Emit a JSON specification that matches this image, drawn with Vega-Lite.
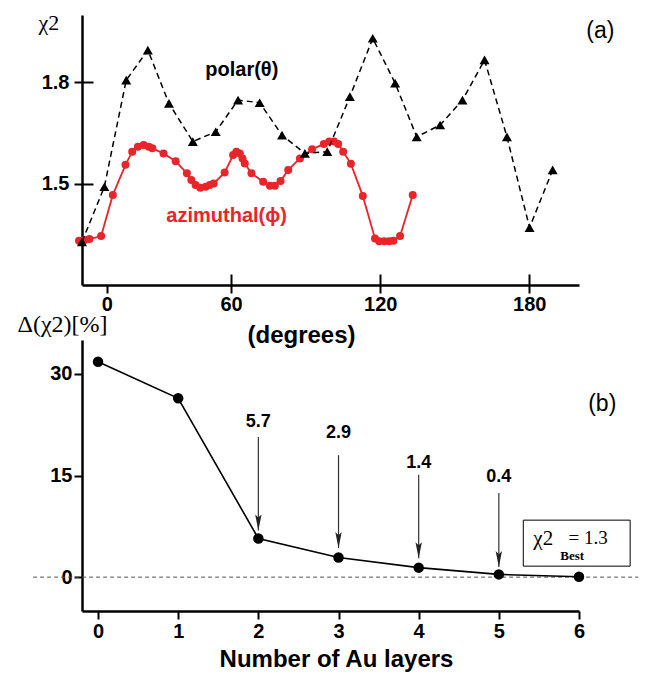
{
  "$schema": "https://vega.github.io/schema/vega-lite/v6.json",
  "padding": {"left": 17, "top": 11, "right": 5, "bottom": 5},
  "background": "white",
  "bounds": "flush",
  "spacing": 55,
  "config": {
    "view": {"stroke": null},
    "axis": {
      "domainColor": "black", "domainWidth": 2.5,
      "grid": false, "labelFont": "Liberation Sans", "labelFontWeight": "bold", "labelFontSize": 20,
      "labelColor": "black", "titleColor": "black"
    }
  },
  "vconcat": [
    {
      "width": 497, "height": 270,
      "resolve": {"axis": {"x": "independent", "y": "independent"}},
      "layer": [
        {
          "data": {"values": [
            {"angle": -1.2, "chi2": 1.331}, {"angle": 1.0, "chi2": 1.333}, {"angle": 3.0, "chi2": 1.336},
            {"angle": 7.7, "chi2": 1.345}, {"angle": 12.4, "chi2": 1.467}, {"angle": 17.5, "chi2": 1.556},
            {"angle": 20.2, "chi2": 1.595}, {"angle": 22.5, "chi2": 1.61}, {"angle": 24.8, "chi2": 1.615},
            {"angle": 26.9, "chi2": 1.61}, {"angle": 28.3, "chi2": 1.605}, {"angle": 32.8, "chi2": 1.59},
            {"angle": 37.7, "chi2": 1.567}, {"angle": 42.2, "chi2": 1.531}, {"angle": 44.0, "chi2": 1.511},
            {"angle": 45.7, "chi2": 1.496}, {"angle": 47.6, "chi2": 1.488}, {"angle": 49.8, "chi2": 1.491},
            {"angle": 51.4, "chi2": 1.496}, {"angle": 53.0, "chi2": 1.501}, {"angle": 57.4, "chi2": 1.533},
            {"angle": 60.8, "chi2": 1.585}, {"angle": 62.1, "chi2": 1.595}, {"angle": 63.5, "chi2": 1.59},
            {"angle": 64.6, "chi2": 1.575}, {"angle": 65.5, "chi2": 1.56}, {"angle": 68.2, "chi2": 1.531},
            {"angle": 72.9, "chi2": 1.506}, {"angle": 75.6, "chi2": 1.494}, {"angle": 77.6, "chi2": 1.494},
            {"angle": 79.9, "chi2": 1.508}, {"angle": 83.0, "chi2": 1.541}, {"angle": 87.7, "chi2": 1.575},
            {"angle": 92.6, "chi2": 1.602}, {"angle": 97.3, "chi2": 1.618}, {"angle": 99.5, "chi2": 1.625},
            {"angle": 101.4, "chi2": 1.625}, {"angle": 103.1, "chi2": 1.618}, {"angle": 105.1, "chi2": 1.595},
            {"angle": 108.2, "chi2": 1.559}, {"angle": 113.0, "chi2": 1.464}, {"angle": 117.9, "chi2": 1.338},
            {"angle": 119.6, "chi2": 1.33}, {"angle": 121.6, "chi2": 1.33}, {"angle": 123.6, "chi2": 1.33},
            {"angle": 125.3, "chi2": 1.331}, {"angle": 128.0, "chi2": 1.345}, {"angle": 133.1, "chi2": 1.467}
          ]},
          "mark": {"type": "line", "color": "#e8252b", "strokeWidth": 1.8,
                   "point": {"filled": true, "size": 64, "color": "#e8252b", "opacity": 1}},
          "encoding": {
            "x": {"field": "angle", "type": "quantitative",
                  "scale": {"domain": [0, 200], "nice": false, "zero": false},
                  "axis": {
                    "orient": "bottom",
                    "values": [10, 60, 120, 180],
                    "labelExpr": "datum.value == 10 ? '0' : datum.label",
                    "ticks": true, "tickSize": 8, "tickColor": "black", "tickWidth": 2,
                    "labelPadding": 1, "labelOverlap": false, "labelFlush": false,
                    "title": "(degrees)", "titleX": 219, "titleY": 50, "titleBaseline": "middle",
                    "titleFont": "Liberation Sans", "titleFontWeight": "bold", "titleFontSize": 24
                  }},
            "y": {"field": "chi2", "type": "quantitative",
                  "scale": {"domain": [1.2, 2.0], "nice": false, "zero": false},
                  "axis": {
                    "orient": "left",
                    "values": [1.5, 1.8],
                    "ticks": true, "tickSize": 8, "tickColor": "black", "tickWidth": 2,
                    "labelPadding": 5, "labelOverlap": false, "labelFlush": false,
                    "title": "χ2", "titleAngle": 0, "titleX": -44, "titleY": 14, "titleAlign": "left",
                    "titleBaseline": "alphabetic", "titleFont": "Liberation Serif", "titleFontWeight": "normal",
                    "titleFontSize": 22
                  }}
          }
        },
        {
          "data": {"values": [
            {"angle": 0.0, "chi2": 1.328}, {"angle": 9.0, "chi2": 1.491}, {"angle": 17.8, "chi2": 1.807},
            {"angle": 26.5, "chi2": 1.896}, {"angle": 35.0, "chi2": 1.738}, {"angle": 44.6, "chi2": 1.625},
            {"angle": 53.8, "chi2": 1.654}, {"angle": 62.8, "chi2": 1.748}, {"angle": 71.5, "chi2": 1.74},
            {"angle": 80.5, "chi2": 1.644}, {"angle": 89.7, "chi2": 1.59}, {"angle": 98.7, "chi2": 1.595},
            {"angle": 107.8, "chi2": 1.758}, {"angle": 117.0, "chi2": 1.931}, {"angle": 126.0, "chi2": 1.798},
            {"angle": 134.7, "chi2": 1.639}, {"angle": 144.1, "chi2": 1.674}, {"angle": 153.1, "chi2": 1.748},
            {"angle": 162.0, "chi2": 1.867}, {"angle": 171.0, "chi2": 1.639}, {"angle": 180.1, "chi2": 1.37},
            {"angle": 189.4, "chi2": 1.541}
          ]},
          "mark": {"type": "line", "color": "black", "strokeWidth": 1.5, "strokeDash": [6, 4],
                   "point": {"shape": "triangle-up", "filled": true, "size": 100, "color": "black", "opacity": 1}},
          "encoding": {
            "x": {"field": "angle", "type": "quantitative",
                  "axis": {
                    "orient": "bottom", "domain": false, "title": null, "labels": false,
                    "values": [60, 120, 180], "ticks": true, "tickSize": 11, "offset": -11,
                    "tickColor": "black", "tickWidth": 2
                  }},
            "y": {"field": "chi2", "type": "quantitative",
                  "axis": {
                    "orient": "left", "domain": false, "title": null, "labels": false,
                    "values": [1.5, 1.8], "ticks": true, "tickSize": 11, "offset": -11,
                    "tickColor": "black", "tickWidth": 2
                  }}
          }
        },
        {
          "data": {"values": [{}]},
          "mark": {"type": "text", "text": "polar(θ)", "font": "Liberation Sans", "fontWeight": "bold", "fontSize": 20, "color": "black"},
          "encoding": {"x": {"datum": 64.3, "type": "quantitative", "axis": null}, "y": {"datum": 1.837, "type": "quantitative", "axis": null}}
        },
        {
          "data": {"values": [{}]},
          "mark": {"type": "text", "text": "azimuthal(ϕ)", "font": "Liberation Sans", "fontWeight": "bold", "fontSize": 20, "color": "#e8252b"},
          "encoding": {"x": {"datum": 58.2, "type": "quantitative", "axis": null}, "y": {"datum": 1.404, "type": "quantitative", "axis": null}}
        },
        {
          "data": {"values": [{}]},
          "mark": {"type": "text", "text": "(a)", "font": "Liberation Sans", "fontSize": 23, "color": "black"},
          "encoding": {"x": {"datum": 208.6, "type": "quantitative", "axis": null}, "y": {"datum": 1.953, "type": "quantitative", "axis": null}}
        }
      ]
    },
    {
      "width": 497, "height": 271,
      "resolve": {"axis": {"x": "independent", "y": "independent"}},
      "layer": [
        {
          "data": {"values": [{}]},
          "mark": {"type": "rule", "strokeDash": [4, 3], "color": "#555555", "strokeWidth": 1},
          "encoding": {
            "x": {"datum": -0.81, "type": "quantitative", "axis": null},
            "x2": {"datum": 6.74},
            "y": {"datum": 0, "type": "quantitative", "axis": null}
          }
        },
        {
          "data": {"values": [
            {"layers": 0, "delta": 31.8}, {"layers": 1, "delta": 26.4}, {"layers": 2, "delta": 5.7},
            {"layers": 3, "delta": 2.9}, {"layers": 4, "delta": 1.4}, {"layers": 5, "delta": 0.4},
            {"layers": 6, "delta": 0.05}
          ]},
          "mark": {"type": "line", "color": "black", "strokeWidth": 1.6,
                   "point": {"filled": true, "size": 110, "color": "black", "opacity": 1}},
          "encoding": {
            "x": {"field": "layers", "type": "quantitative",
                  "scale": {"domain": [-0.2, 6], "nice": false, "zero": false},
                  "axis": {
                    "orient": "bottom",
                    "values": [0, 1, 2, 3, 4, 5, 6],
                    "ticks": true, "tickSize": 8, "tickColor": "black", "tickWidth": 2,
                    "labelPadding": 2, "labelOverlap": false, "labelFlush": false,
                    "title": "Number of Au layers", "titleX": 254, "titleY": 48, "titleBaseline": "middle",
                    "titleFont": "Liberation Sans", "titleFontWeight": "bold", "titleFontSize": 24
                  }},
            "y": {"field": "delta", "type": "quantitative",
                  "scale": {"domain": [-5, 35], "nice": false, "zero": false},
                  "axis": {
                    "orient": "left",
                    "values": [0, 15, 30],
                    "ticks": true, "tickSize": 8, "tickColor": "black", "tickWidth": 2,
                    "labelPadding": 2, "labelOverlap": false, "labelFlush": false,
                    "title": "Δ(χ2)[%]", "titleAngle": 0, "titleX": -65, "titleY": -9, "titleAlign": "left",
                    "titleBaseline": "alphabetic", "titleFont": "Liberation Serif", "titleFontWeight": "normal",
                    "titleFontSize": 24
                  }}
          }
        },
        {
          "data": {"name": "arrows", "values": [
            {"layers": 2, "label": "5.7", "labelY": 22.9, "top": 20.7, "tip": 6.9},
            {"layers": 3, "label": "2.9", "labelY": 21.3, "top": 18.0, "tip": 4.3},
            {"layers": 4, "label": "1.4", "labelY": 16.8, "top": 15.1, "tip": 2.8},
            {"layers": 5, "label": "0.4", "labelY": 14.8, "top": 12.4, "tip": 1.5}
          ]},
          "layer": [
            {
              "mark": {"type": "rule", "color": "#333333", "strokeWidth": 1.2},
              "encoding": {
                "x": {"field": "layers", "type": "quantitative",
                      "axis": {"orient": "bottom", "domain": false, "title": null, "labels": false,
                               "values": [0, 1, 2, 3, 4, 5, 6], "ticks": true, "tickSize": 11, "offset": -11,
                               "tickColor": "black", "tickWidth": 2}},
                "y": {"field": "top", "type": "quantitative",
                      "axis": {"orient": "left", "domain": false, "title": null, "labels": false,
                               "values": [0, 15, 30], "ticks": true, "tickSize": 11, "offset": -11,
                               "tickColor": "black", "tickWidth": 2}},
                "y2": {"field": "tip"}
              }
            },
            {
              "mark": {"type": "point", "shape": "M-0.4,-2L0,0L0.4,-2L0,-1.6Z", "size": 256, "filled": true, "color": "#222222", "opacity": 1},
              "encoding": {
                "x": {"field": "layers", "type": "quantitative", "axis": null},
                "y": {"field": "tip", "type": "quantitative", "axis": null}
              }
            },
            {
              "mark": {"type": "text", "font": "Liberation Sans", "fontWeight": "bold", "fontSize": 18, "color": "black"},
              "encoding": {
                "x": {"field": "layers", "type": "quantitative", "axis": null},
                "y": {"field": "labelY", "type": "quantitative", "axis": null},
                "text": {"field": "label"}
              }
            }
          ]
        },
        {
          "data": {"values": [{}]},
          "mark": {"type": "rect", "fill": "white", "stroke": "black", "strokeWidth": 1},
          "encoding": {
            "x": {"datum": 5.305, "type": "quantitative", "axis": null}, "x2": {"datum": 6.638},
            "y": {"datum": 8.41, "type": "quantitative", "axis": null}, "y2": {"datum": 1.62}
          }
        },
        {
          "data": {"values": [{}]},
          "mark": {"type": "text", "text": "χ2", "font": "Liberation Serif", "fontSize": 21, "color": "black"},
          "encoding": {"x": {"datum": 5.554, "type": "quantitative", "axis": null}, "y": {"datum": 5.61, "type": "quantitative", "axis": null}}
        },
        {
          "data": {"values": [{}]},
          "mark": {"type": "text", "text": "= 1.3", "font": "Liberation Serif", "fontSize": 19, "color": "black"},
          "encoding": {"x": {"datum": 6.115, "type": "quantitative", "axis": null}, "y": {"datum": 5.75, "type": "quantitative", "axis": null}}
        },
        {
          "data": {"values": [{}]},
          "mark": {"type": "text", "text": "Best", "font": "Liberation Serif", "fontWeight": "bold", "fontSize": 13, "color": "black"},
          "encoding": {"x": {"datum": 5.915, "type": "quantitative", "axis": null}, "y": {"datum": 3.1, "type": "quantitative", "axis": null}}
        },
        {
          "data": {"values": [{}]},
          "mark": {"type": "text", "text": "(b)", "font": "Liberation Sans", "fontWeight": "normal", "fontSize": 23, "color": "black"},
          "encoding": {"x": {"datum": 6.29, "type": "quantitative", "axis": null}, "y": {"datum": 25.5, "type": "quantitative", "axis": null}}
        }
      ]
    }
  ]
}
